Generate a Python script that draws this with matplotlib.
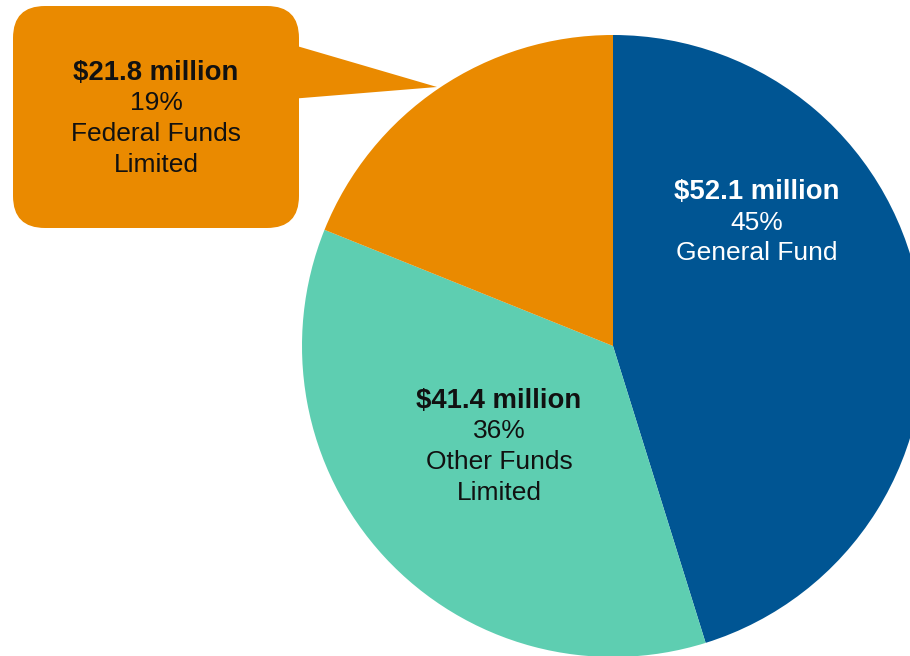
import matplotlib
matplotlib.use("Agg")
import matplotlib.pyplot as plt
from matplotlib import font_manager
from matplotlib.patches import FancyBboxPatch, Polygon

# Funding sources (millions of dollars)
categories = ["General Fund", "Other Funds\nLimited", "Federal Funds\nLimited"]
amounts = [52.1, 41.4, 21.8]
percents = ["45%", "36%", "19%"]
colors = ["#005593", "#5ECEB1", "#EA8A00"]

W, H = 910, 656
fig = plt.figure(figsize=(W / 100, H / 100), dpi=100)
ax = fig.add_axes([0, 0, 1, 1])

cx, cy, r = 613, H - 346, 311
ax.pie(amounts, colors=colors, startangle=90, counterclock=False,
       center=(cx, cy), radius=r, wedgeprops=dict(linewidth=0))

ax.set_xlim(0, W)
ax.set_ylim(0, H)
ax.set_aspect("equal")
ax.axis("off")

def py(y):
    return H - y

# Callout for the federal slice
box = FancyBboxPatch((13, py(228)), 286, 222,
                     boxstyle="round,pad=0,rounding_size=32",
                     facecolor=colors[2], edgecolor="none", zorder=3)
ax.add_patch(box)
pointer = Polygon([(290, py(44)), (437, py(87)), (290, py(99))],
                  closed=True, facecolor=colors[2], edgecolor="none", zorder=3)
ax.add_patch(pointer)

installed = {f.name for f in font_manager.fontManager.ttflist}
font = next((f for f in ["Liberation Sans", "Arimo", "Arial"] if f in installed),
            "DejaVu Sans")
fs = 19
line = 30.5

def label(x, y0, amount, pct, name, color):
    ax.text(x, py(y0), f"${amount} million", ha="center", va="center",
            fontsize=fs + 0.8, fontweight="bold", color=color, family=font, zorder=4)
    lines = [pct] + name.split("\n")
    for i, t in enumerate(lines, start=1):
        ax.text(x, py(y0 + i * line), t, ha="center", va="center",
                fontsize=fs, color=color, family=font, zorder=4)

label(757, 192, amounts[0], percents[0], categories[0], "white")
label(499, 401, amounts[1], percents[1], categories[1], "#111111")
label(156, 73, amounts[2], percents[2], categories[2], "#111111")

fig.savefig("out.png", dpi=100)
